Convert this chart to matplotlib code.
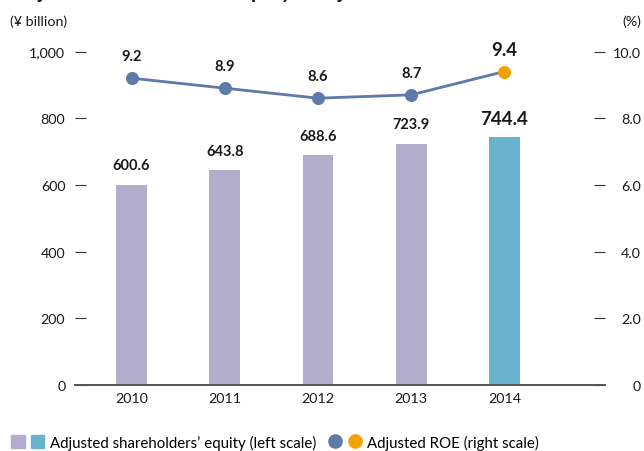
import matplotlib
matplotlib.use("Agg")
import matplotlib.pyplot as plt
from matplotlib.lines import Line2D
from matplotlib.patches import Patch
from matplotlib.legend_handler import HandlerTuple

# --- data ---
years = ["2010", "2011", "2012", "2013", "2014"]
equity = [600.6, 643.8, 688.6, 723.9, 744.4]   # ¥ billion, left scale
roe = [9.2, 8.9, 8.6, 8.7, 9.4]                  # %, right scale

left_ticks = [0, 200, 400, 600, 800, 1000]
left_labels = ["0", "200", "400", "600", "800", "1,000"]
right_ticks = [0, 2, 4, 6, 8, 10]
right_labels = ["0", "2.0", "4.0", "6.0", "8.0", "10.0"]

BAR_OLD = "#B1ADCB"
BAR_NEW = "#69B3CF"
LINE = "#5D7AA8"
DOT_NEW = "#F5A100"
TXT = "#1a1a1a"

plt.rcParams["font.family"] = ["Lato", "DejaVu Sans"]

fig = plt.figure(figsize=(6.44, 4.52), dpi=100)
ax = fig.add_axes([75 / 644, 1 - 386 / 452, 530 / 644, 333.5 / 452])
ax2 = ax.twinx()

x = list(range(len(years)))
cols = [BAR_OLD] * (len(years) - 1) + [BAR_NEW]
ax.bar(x, equity, width=0.33, color=cols, zorder=2)

for i, v in enumerate(equity):
    last = i == len(equity) - 1
    ax.annotate(f"{v:.1f}", (i, v), textcoords="offset points",
                xytext=(0, 7 if last else 9), ha="center", va="bottom",
                fontsize=13.5 if last else 10.5, fontweight="bold", color=TXT)

ax.set_xlim(-0.606, 5.078)
ax.set_ylim(0, 1000)
ax.set_xticks(x)
ax.set_xticklabels(years, fontsize=10.3, color=TXT)
ax.tick_params(axis="x", length=0, pad=5)
ax.set_yticks(left_ticks)
ax.set_yticklabels(left_labels, fontsize=10.3, color=TXT)
ax.tick_params(axis="y", direction="in", length=8, width=0.8, pad=7, color="#333333")

# ROE line on right axis
ax2.plot(x, roe, color=LINE, linewidth=2, zorder=3, clip_on=False)
ax2.scatter(x[:-1], roe[:-1], s=70, color=LINE, zorder=4, clip_on=False)
ax2.scatter([x[-1]], [roe[-1]], s=70, color=DOT_NEW, zorder=4, clip_on=False)
for i, v in enumerate(roe):
    last = i == len(roe) - 1
    ax2.annotate(f"{v:.1f}", (i, v), textcoords="offset points",
                 xytext=(0, 10 if last else 11), ha="center", va="bottom",
                 fontsize=13.5 if last else 10.5, fontweight="bold", color=TXT)

ax2.set_ylim(0, 10)
ax2.set_yticks(right_ticks)
ax2.set_yticklabels(right_labels, fontsize=10.3, color=TXT)
for lab in ax2.get_yticklabels():
    lab.set_horizontalalignment("right")
ax2.tick_params(axis="y", direction="in", length=8, width=0.8, pad=26, color="#333333")

for a in (ax, ax2):
    for s in ("top", "left", "right"):
        a.spines[s].set_visible(False)
    a.spines["bottom"].set_color("#555555")
    a.spines["bottom"].set_linewidth(1.2)

# header texts (title is cropped at the top edge, as in the source)
fig.text(12 / 644, 1 + 1.5 / 452, "Adjusted Shareholders\u2019 Equity / Adjusted ROE",
         fontsize=15, fontweight="bold", va="baseline", ha="left", color=TXT)
fig.text(10 / 644, 1 - 22 / 452, "(\u00a5 billion)", fontsize=10.3, va="center", color=TXT)
fig.text(641 / 644, 1 - 22 / 452, "(%)", fontsize=10.3, va="center", ha="right", color=TXT)

# legend
handles = [
    (Patch(color=BAR_OLD), Patch(color=BAR_NEW)),
    (Line2D([], [], marker="o", ls="", color=LINE, markersize=9.5),
     Line2D([], [], marker="o", ls="", color=DOT_NEW, markersize=9.5)),
]
fig.legend(handles, ["Adjusted shareholders\u2019 equity (left scale)",
                     "Adjusted ROE (right scale)"],
           handler_map={tuple: HandlerTuple(ndivide=None, pad=0.4)},
           loc="center left", bbox_to_anchor=(5 / 644, 1 - 443 / 452),
           ncol=2, frameon=False, fontsize=10.8, handlelength=2.2,
           handleheight=1.0, handletextpad=0.4, columnspacing=0.8,
           borderaxespad=0)

fig.savefig("out.png", dpi=100)
